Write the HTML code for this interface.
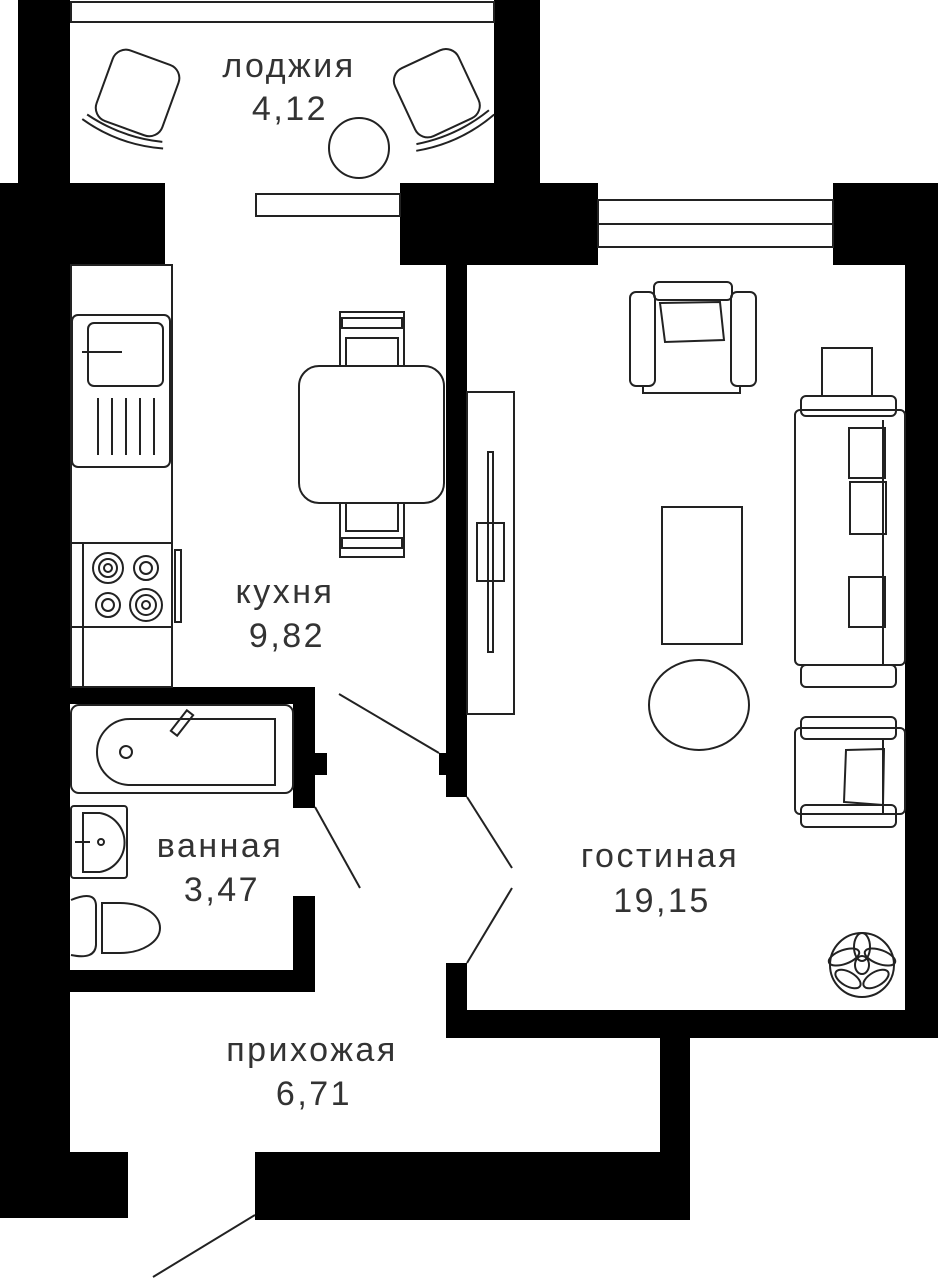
<!DOCTYPE html>
<html><head><meta charset="utf-8"><style>
html,body{margin:0;padding:0;background:#fff}
svg{display:block}
text{font-family:"Liberation Sans","DejaVu Sans",sans-serif;font-size:34px;fill:#333;text-anchor:middle;letter-spacing:2.5px}
</style></head><body>
<svg width="938" height="1278" viewBox="0 0 938 1278" xmlns="http://www.w3.org/2000/svg">
<g fill="#000">
<rect x="18" y="0" width="52" height="185"/>
<rect x="494" y="0" width="46" height="185"/>
<rect x="0" y="183" width="165" height="82"/>
<rect x="0" y="183" width="70" height="1035"/>
<rect x="0" y="1152" width="128" height="66"/>
<rect x="400" y="183" width="198" height="82"/>
<rect x="833" y="183" width="105" height="82"/>
<rect x="905" y="183" width="33" height="855"/>
<rect x="446" y="1010" width="492" height="28"/>
<rect x="660" y="1010" width="30" height="210"/>
<rect x="255" y="1152" width="435" height="68"/>
<rect x="446" y="265" width="21" height="532"/>
<rect x="439" y="753" width="28" height="22"/>
<rect x="446" y="963" width="21" height="60"/>
<rect x="70" y="687" width="245" height="17"/>
<rect x="293" y="687" width="22" height="121"/>
<rect x="315" y="753" width="12" height="22"/>
<rect x="293" y="896" width="22" height="96"/>
<rect x="70" y="970" width="245" height="22"/>
</g>
<g fill="none" stroke="#222" stroke-width="2">
<rect x="71" y="2" width="423" height="20"/>
<rect x="256" y="194" width="144" height="22"/>
<circle cx="359" cy="148" r="30"/>
<g transform="rotate(20 135 100)"><rect x="100" y="55" width="70" height="75" rx="14"/><path d="M95 130 Q135 140 175 130"/><path d="M92 136 Q135 148 178 136"/></g>
<g transform="rotate(-25 440 100)"><rect x="405" y="55" width="70" height="75" rx="14"/><path d="M400 130 Q440 140 480 130"/><path d="M397 136 Q440 148 483 136"/></g>
<rect x="598" y="200" width="235" height="47"/><line x1="598" y1="224" x2="833" y2="224"/>
<rect x="71" y="265" width="101" height="422"/>
<rect x="72" y="315" width="98" height="152" rx="6"/>
<rect x="88" y="323" width="75" height="63" rx="6"/>
<line x1="82" y1="352" x2="122" y2="352"/>
<g><line x1="98" y1="398" x2="98" y2="455"/><line x1="112" y1="398" x2="112" y2="455"/><line x1="126" y1="398" x2="126" y2="455"/><line x1="140" y1="398" x2="140" y2="455"/><line x1="154" y1="398" x2="154" y2="455"/></g>
<line x1="71" y1="543" x2="172" y2="543"/><line x1="83" y1="543" x2="83" y2="687"/><line x1="71" y1="627" x2="172" y2="627"/>
<rect x="175" y="550" width="6" height="72"/>
<circle cx="108" cy="568" r="15"/><circle cx="108" cy="568" r="9"/><circle cx="108" cy="568" r="4"/>
<circle cx="146" cy="568" r="12"/><circle cx="146" cy="568" r="6"/>
<circle cx="108" cy="605" r="12"/><circle cx="108" cy="605" r="6"/>
<circle cx="146" cy="605" r="16"/><circle cx="146" cy="605" r="10"/><circle cx="146" cy="605" r="4"/>
<rect x="299" y="366" width="145" height="137" rx="20"/>
<rect x="340" y="312" width="64" height="54"/><rect x="342" y="318" width="60" height="10"/><rect x="346" y="338" width="52" height="28"/>
<rect x="340" y="503" width="64" height="54"/><rect x="342" y="538" width="60" height="10"/><rect x="346" y="503" width="52" height="28"/>
<rect x="71" y="705" width="222" height="88" rx="8"/>
<path d="M130 719 H275 V785 H130 A33 33 0 0 1 130 719 Z"/>
<circle cx="126" cy="752" r="6"/>
<rect x="178" y="710" width="8" height="26" transform="rotate(38 182 723)"/>
<rect x="71" y="806" width="56" height="72" rx="3"/>
<path d="M100 813 H83 V872 H100"/><path d="M100 813 A30 30 0 0 1 100 872"/>
<circle cx="101" cy="842" r="3"/><line x1="75" y1="842" x2="90" y2="842"/>
<path d="M71 900 Q95 890 96 905 V945 Q95 960 71 955"/>
<path d="M102 903 H120 A40 25 0 0 1 120 953 H102 Z"/>
<line x1="339" y1="694" x2="439" y2="753"/>
<line x1="315" y1="807" x2="360" y2="888"/>
<line x1="467" y1="797" x2="512" y2="868"/>
<line x1="467" y1="963" x2="512" y2="888"/>
<line x1="255" y1="1215" x2="153" y2="1277"/>
<rect x="467" y="392" width="47" height="322"/>
<rect x="488" y="452" width="5" height="200"/><rect x="477" y="523" width="27" height="58"/>
<rect x="630" y="292" width="25" height="94" rx="6"/><rect x="731" y="292" width="25" height="94" rx="6"/>
<rect x="654" y="282" width="78" height="18" rx="5"/>
<path d="M643 386 V393 H740 V386"/><path d="M660 303 L720 302 L724 340 L665 342 Z"/>
<rect x="662" y="507" width="80" height="137"/>
<ellipse cx="699" cy="705" rx="50" ry="45"/>
<rect x="822" y="348" width="50" height="48"/>
<rect x="801" y="396" width="95" height="20" rx="5"/>
<rect x="795" y="410" width="110" height="255" rx="5"/>
<line x1="883" y1="420" x2="883" y2="665"/>
<rect x="801" y="665" width="95" height="22" rx="5"/>
<rect x="849" y="428" width="36" height="50"/><rect x="850" y="482" width="36" height="52"/><rect x="849" y="577" width="36" height="50"/>
<rect x="801" y="717" width="95" height="22" rx="5"/>
<rect x="795" y="728" width="110" height="86" rx="5"/>
<line x1="883" y1="739" x2="883" y2="814"/>
<rect x="801" y="805" width="95" height="22" rx="5"/>
<path d="M846 750 L884 749 L883 805 L844 802 Z"/>
<g transform="translate(862 965)">
<ellipse cx="0" cy="0" rx="32" ry="32"/>
<ellipse cx="-18" cy="-8" rx="16" ry="7" transform="rotate(-20 -18 -8)"/>
<ellipse cx="18" cy="-8" rx="16" ry="7" transform="rotate(20 18 -8)"/>
<ellipse cx="0" cy="-18" rx="8" ry="14"/>
<ellipse cx="-14" cy="14" rx="14" ry="7" transform="rotate(30 -14 14)"/>
<ellipse cx="14" cy="14" rx="14" ry="7" transform="rotate(-30 14 14)"/>
<ellipse cx="0" cy="0" rx="7" ry="9"/>
</g>
</g>
<text x="289" y="77">лоджия</text>
<text x="290" y="120">4,12</text>
<text x="285" y="603">кухня</text>
<text x="287" y="647">9,82</text>
<text x="220" y="857">ванная</text>
<text x="222" y="901">3,47</text>
<text x="660" y="867">гостиная</text>
<text x="662" y="912">19,15</text>
<text x="312" y="1061">прихожая</text>
<text x="314" y="1105">6,71</text>
</svg>
</body></html>
